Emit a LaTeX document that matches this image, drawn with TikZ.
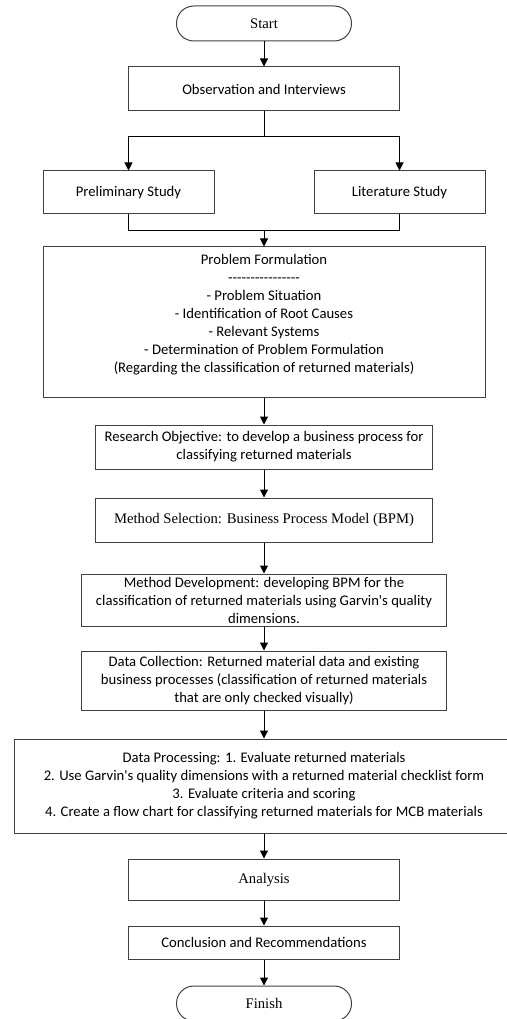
\documentclass[tikz,border=0pt]{standalone}
\usepackage{fontspec}
\setmainfont{Carlito}
\newfontfamily\timesfont{Liberation Serif}
\usetikzlibrary{arrows.meta}

\begin{document}
\begin{tikzpicture}[
        x=0.75pt, y=-0.75pt, line width=0.75pt,
        every node/.style={draw=black!75, align=center, inner sep=0pt, font=\fontsize{11}{13.5}\selectfont},
        box/.style={rectangle},
        serifbox/.style={rectangle, font=\fontsize{11}{13.5}\selectfont\timesfont},
        term/.style={rectangle, rounded corners=13pt, minimum width=131.25pt, minimum height=26.25pt, font=\fontsize{11}{13.5}\selectfont\timesfont},
        arr/.style={-{Triangle[length=6pt, width=6pt]}}
    ]
        \useasboundingbox (0,0) rectangle (506,1019);

        % Các khối chính
        \node [term] (start) at (264,23.5) {Start};
        \node [box, minimum width=203.25pt, minimum height=33pt] (obs) at (264,89) {Observation and Interviews};
        \node [box, minimum width=128.25pt, minimum height=32.25pt] (prelim) at (128.5,192.5) {Preliminary Study};
        \node [box, minimum width=128.25pt, minimum height=32.25pt] (lit) at (399.5,192.5) {Literature Study};
        \node [box, minimum width=331.5pt, minimum height=112.5pt] (prob) at (264,322) {Problem Formulation\\
            \foreach \i in {1,...,16}{\hbox{-}}\\
            - Problem Situation\\
            - Identification of Root Causes\\
            - Relevant Systems\\
            - Determination of Problem Formulation\\
            (Regarding the classification of returned materials)\\ ~};
        \node [box, minimum width=252.75pt, minimum height=33pt] (obj) at (264,447) {Research Objective: to develop a business process for\\ classifying returned materials};
        \node [serifbox, minimum width=252.75pt, minimum height=33pt] (msel) at (264,520) {Method Selection: Business Process Model (BPM)};
        \node [box, minimum width=273.75pt, minimum height=39pt] (mdev) at (264,600) {Method Development: developing BPM for the\\ classification of returned materials using Garvin\textquotesingle s quality\\ dimensions.};
        \node [box, minimum width=273.75pt, minimum height=44.25pt] (dcol) at (264,680.5) {Data Collection: Returned material data and existing\\ business processes (classification of returned materials\\ that are only checked visually)};
        \node [box, minimum width=375pt, minimum height=70.5pt] (dproc) at (264,786) {Data Processing: 1. Evaluate returned materials\\
            2. Use Garvin\textquotesingle s quality dimensions with a returned material checklist form\\
            3. Evaluate criteria and scoring\\
            4. Create a flow chart for classifying returned materials for MCB materials};
        \node [serifbox, minimum width=203.25pt, minimum height=30.75pt] (ana) at (264,879.5) {Analysis};
        \node [box, minimum width=203.25pt, minimum height=24.75pt] (concl) at (264,942.5) {Conclusion and Recommendations};
        \node [term] (finish) at (264,1003.5) {Finish};

        % Điểm rẽ nhánh và gộp nhánh
        \coordinate (split) at (264,137);
        \coordinate (merge) at (264,231);

        % Các mũi tên
        \draw[arr] (start) -- (obs);
        \draw (obs) -- (split);
        \draw[arr] (split) -| (prelim);
        \draw[arr] (split) -| (lit);
        \draw (prelim) |- (merge);
        \draw (lit) |- (merge);
        \draw[arr] (merge) -- (prob);
        \draw[arr] (prob) -- (obj);
        \draw[arr] (obj) -- (msel);
        \draw[arr] (msel) -- (mdev);
        \draw[arr] (mdev) -- (dcol);
        \draw[arr] (dcol) -- (dproc);
        \draw[arr] (dproc) -- (ana);
        \draw[arr] (ana) -- (concl);
        \draw[arr] (concl) -- (finish);
    \end{tikzpicture}
\end{document}
